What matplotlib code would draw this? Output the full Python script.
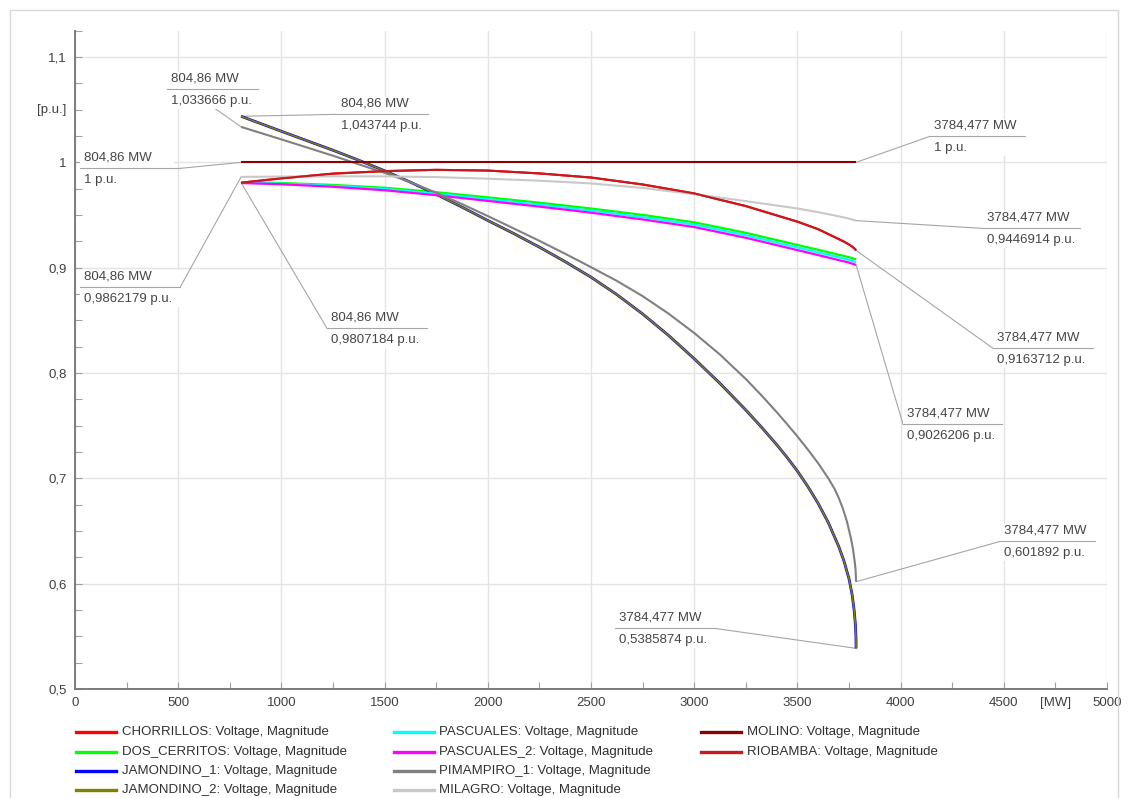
import matplotlib
matplotlib.use("Agg")
import matplotlib.pyplot as plt
from matplotlib.lines import Line2D
from matplotlib.patches import Rectangle
from matplotlib.ticker import FixedLocator, MultipleLocator
from matplotlib.transforms import offset_copy

plt.rcParams['font.family'] = ['Liberation Sans', 'DejaVu Sans']

# ---- data: bus voltage vs. total transfer (P-V curves) ----
P_UPPER = [804.86, 1000, 1250, 1500, 1750, 2000, 2250, 2500, 2750, 3000,
           3250, 3500, 3600, 3700, 3750, 3784.477]
V_MILAGRO = [0.9862179, 0.9865, 0.9867, 0.9867, 0.9860, 0.9845, 0.9826, 0.9800,
             0.9757, 0.9698, 0.9632, 0.9562, 0.9527, 0.9488, 0.9466, 0.9446914]
V_DOS_CERRITOS = [0.9812, 0.9804, 0.9786, 0.9759, 0.9717, 0.9668, 0.9617, 0.9562,
                  0.9501, 0.9431, 0.9331, 0.9216, 0.9170, 0.9123, 0.9100, 0.9079]
V_PASCUALES = [0.9808, 0.9798, 0.9777, 0.9747, 0.9703, 0.9651, 0.9599, 0.9542,
               0.9480, 0.9409, 0.9308, 0.9192, 0.9145, 0.9098, 0.9074, 0.9053]
V_PASCUALES_2 = [0.9804, 0.9792, 0.9768, 0.9735, 0.9688, 0.9634, 0.9580, 0.9522,
                 0.9458, 0.9386, 0.9284, 0.9167, 0.9120, 0.9072, 0.9048, 0.9026206]

P_RED = [804.86, 1000, 1250, 1500, 1750, 2000, 2250, 2500, 2750, 3000, 3250,
         3500, 3600, 3700, 3725, 3750, 3765, 3775, 3784.477]
V_RIOBAMBA = [0.9807184, 0.9848, 0.9893, 0.9917, 0.9929, 0.9922, 0.9895, 0.9856,
              0.9790, 0.9705, 0.9585, 0.9437, 0.9366, 0.9272, 0.9248, 0.9220,
              0.9200, 0.9184, 0.9163712]
V_CHORRILLOS = [0.9807184, 0.9848, 0.9893, 0.9917, 0.9929, 0.9922, 0.9895, 0.9856,
                0.9790, 0.9705, 0.9585, 0.9437, 0.9366, 0.9272, 0.9248, 0.9220,
                0.9200, 0.9184, 0.9163712]

P_MOLINO = [804.86, 1500, 2500, 3784.477]
V_MOLINO = [1.0, 1.0, 1.0, 1.0]

P_JAMONDINO = [804.86, 1000, 1250, 1375, 1500, 1625, 1750, 1875, 2000, 2125, 2250,
               2375, 2500, 2625, 2750, 2875, 3000, 3125, 3250, 3325, 3400, 3450,
               3500, 3550, 3600, 3650, 3700, 3725, 3750, 3765, 3775, 3781, 3783.5,
               3784.477]
V_JAMONDINO_1 = [1.043744, 1.0295, 1.0115, 1.0020, 0.9920, 0.9812, 0.9697, 0.9575,
                 0.9448, 0.9325, 0.9195, 0.9057, 0.8910, 0.8745, 0.8561, 0.8358,
                 0.8136, 0.7901, 0.7649, 0.7488, 0.7319, 0.7199, 0.7069, 0.6924,
                 0.6764, 0.6579, 0.6354, 0.6219, 0.6047, 0.5897, 0.5747, 0.5609,
                 0.5505, 0.5385874]
V_JAMONDINO_2 = [1.043744, 1.0295, 1.0115, 1.0020, 0.9920, 0.9812, 0.9697, 0.9575,
                 0.9448, 0.9325, 0.9195, 0.9057, 0.8910, 0.8745, 0.8561, 0.8358,
                 0.8136, 0.7901, 0.7649, 0.7488, 0.7319, 0.7199, 0.7069, 0.6924,
                 0.6764, 0.6579, 0.6354, 0.6219, 0.6047, 0.5897, 0.5747, 0.5609,
                 0.5505, 0.5385874]

P_PIMAMPIRO = [804.86, 1000, 1250, 1500, 1625, 1750, 1875, 2000, 2125, 2250, 2375,
               2500, 2625, 2750, 2875, 3000, 3125, 3250, 3325, 3400, 3450, 3500,
               3550, 3600, 3650, 3680, 3700, 3720, 3740, 3760, 3770, 3778, 3782,
               3784.477]
V_PIMAMPIRO_1 = [1.033666, 1.0218, 1.0063, 0.9900, 0.9812, 0.9712, 0.9604, 0.9490,
                 0.9373, 0.9255, 0.9132, 0.9005, 0.8875, 0.8730, 0.8565, 0.8380,
                 0.8175, 0.7943, 0.7790, 0.7628, 0.7515, 0.7398, 0.7275, 0.7145,
                 0.7000, 0.6900, 0.6815, 0.6715, 0.6590, 0.6425, 0.6320, 0.6205,
                 0.6125, 0.601892]

X_TICKS = [0, 500, 1000, 1500, 2000, 2500, 3000, 3500, 4000, 4500, 5000]
X_TICK_LABELS = ['0', '500', '1000', '1500', '2000', '2500', '3000', '3500',
                 '4000', '4500', '5000']
Y_TICKS = [0.5, 0.6, 0.7, 0.8, 0.9, 1.0, 1.1]
Y_TICK_LABELS = ['0,5', '0,6', '0,7', '0,8', '0,9', '1', '1,1']

W, H = 1128, 798
fig = plt.figure(figsize=(W / 100, H / 100), dpi=100)
fig.patch.set_facecolor('white')

# outer light frame
fig.add_artist(Rectangle((10 / W, -0.02), (1118 - 10) / W, 1.02 - 9.5 / H,
                         transform=fig.transFigure, fill=False,
                         ec='#d8d8d8', lw=1.0))

ax = fig.add_axes([75 / W, 1 - 689 / H, (1107 - 75) / W, (689 - 30.7) / H])
ax.set_xlim(0, 5000)
ax.set_ylim(0.5, 1.125)

for s in ('top', 'right'):
    ax.spines[s].set_visible(False)
for s in ('left', 'bottom'):
    ax.spines[s].set_color('#7c7c7c')
    ax.spines[s].set_linewidth(1.4)

ax.xaxis.set_major_locator(FixedLocator(X_TICKS))
ax.set_xticklabels(X_TICK_LABELS)
ax.yaxis.set_major_locator(FixedLocator(Y_TICKS))
ax.set_yticklabels(Y_TICK_LABELS)
ax.xaxis.set_minor_locator(MultipleLocator(250))
ax.yaxis.set_minor_locator(MultipleLocator(0.025))
ax.tick_params(which='both', direction='in', color='#a0a0a0', length=5, width=0.8)
ax.tick_params(which='major', labelsize=9.5, labelcolor='#404040', pad=6)
ax.grid(True, which='major', color='#e4e4e4', lw=1.0)
ax.set_axisbelow(True)

# unit captions sitting in the tick-label rows
ax.text(0, 1.05, '[p.u.]', transform=offset_copy(ax.get_yaxis_transform(), fig, x=-6, units='points'),
        ha='right', va='center', fontsize=9.5, color='#404040')
ax.text(4750, 0, '[MW]', transform=offset_copy(ax.get_xaxis_transform(), fig, y=-6, units='points'),
        ha='center', va='top', fontsize=9.5, color='#404040')

# ---- curves ----
series = [
    ('CHORRILLOS', P_RED, V_CHORRILLOS, '#ff0000', 1.5),
    ('DOS_CERRITOS', P_UPPER, V_DOS_CERRITOS, '#00ff00', 1.6),
    ('JAMONDINO_1', P_JAMONDINO, V_JAMONDINO_1, '#0000ff', 2.0),
    ('JAMONDINO_2', P_JAMONDINO, V_JAMONDINO_2, '#808000', 1.2),
    ('PASCUALES', P_UPPER, V_PASCUALES, '#00ffff', 1.6),
    ('PASCUALES_2', P_UPPER, V_PASCUALES_2, '#ff00ff', 1.6),
    ('PIMAMPIRO_1', P_PIMAMPIRO, V_PIMAMPIRO_1, '#808080', 1.5),
    ('MILAGRO', P_UPPER, V_MILAGRO, '#c8c8c8', 1.5),
    ('MOLINO', P_MOLINO, V_MOLINO, '#8b0000', 1.5),
    ('RIOBAMBA', P_RED, V_RIOBAMBA, '#c8191e', 1.5),
]
for name, p, v, c, lw in series:
    ax.plot(p, v, color=c, lw=lw, zorder=3, solid_capstyle='butt',
            solid_joinstyle='round')

# ---- callouts: (point P, point V, separator x0, x1, separator y, leader joint, box end) ----
callouts = [
    (P_PIMAMPIRO[0], V_PIMAMPIRO_1[0], 445, 887, 1.0693, (547, 1.0693), 887),
    (P_JAMONDINO[0], V_JAMONDINO_1[0], 1269, 1710, 1.0456, (1269, 1.0456), 1710),
    (P_MOLINO[0], V_MOLINO[0], 24, 509, 0.9943, (509, 0.9943), 480),
    (P_UPPER[0], V_MILAGRO[0], 24, 509, 0.8813, (509, 0.8813), 509),
    (P_RED[0], V_RIOBAMBA[0], 1221, 1705, 0.8424, (1221, 0.8424), 1705),
    (P_MOLINO[-1], V_MOLINO[-1], 4142, 4603, 1.0247, (4142, 1.0247), 4603),
    (P_UPPER[-1], V_MILAGRO[-1], 4399, 4869, 0.9373, (4399, 0.9373), 4869),
    (P_RED[-1], V_RIOBAMBA[-1], 4448, 4932, 0.8234, (4448, 0.8234), 4932),
    (P_UPPER[-1], V_PASCUALES_2[-1], 4012, 4491, 0.7512, (4012, 0.7512), 4491),
    (P_PIMAMPIRO[-1], V_PIMAMPIRO_1[-1], 4482, 4942, 0.6401, (4482, 0.6401), 4942),
    (P_JAMONDINO[-1], V_JAMONDINO_1[-1], 2616, 3101, 0.5575, (3101, 0.5575), 3101),
]


def fmt(x):
    return f"{x:.7g}".replace('.', ',')


lead_c = '#a6a6a6'
for p, v, x0, x1, ys, joint, bx1 in callouts:
    ax.plot([p, joint[0]], [v, joint[1]], color=lead_c, lw=0.8, zorder=2.1)
    ax.add_patch(Rectangle((x0, ys - 0.019), bx1 - x0, 0.0355, fc='white', ec='none', zorder=2.2))
    ax.plot([x0, x1], [ys, ys], color=lead_c, lw=0.8, zorder=2.5)
    ax.annotate(f"{fmt(p)} MW", (x0, ys), xytext=(3, 8), textcoords='offset points',
                ha='left', va='center', fontsize=9.5, color='#454545', zorder=2.6)
    ax.annotate(f"{fmt(v)} p.u.", (x0, ys), xytext=(3, -8.6), textcoords='offset points',
                ha='left', va='center', fontsize=9.5, color='#454545', zorder=2.6)

# ---- legend, three columns below the plot ----
rows_y = [732, 751.5, 771, 790]
cols = [(76, 116, 122), (394, 434, 439), (701, 741, 747)]
layout = [series[0:4], series[4:8], series[8:10]]
for (lx0, lx1, tx), col in zip(cols, layout):
    for yy, (name, _, _, c, _) in zip(rows_y, col):
        fy = 1 - yy / H
        fig.add_artist(Line2D([lx0 / W, lx1 / W], [fy, fy], color=c, lw=2.4,
                              transform=fig.transFigure))
        fig.text(tx / W, fy, f"{name}: Voltage, Magnitude", ha='left', va='center',
                 fontsize=9.5, color='#303030')

fig.savefig('out.png', dpi=100, facecolor='white')
